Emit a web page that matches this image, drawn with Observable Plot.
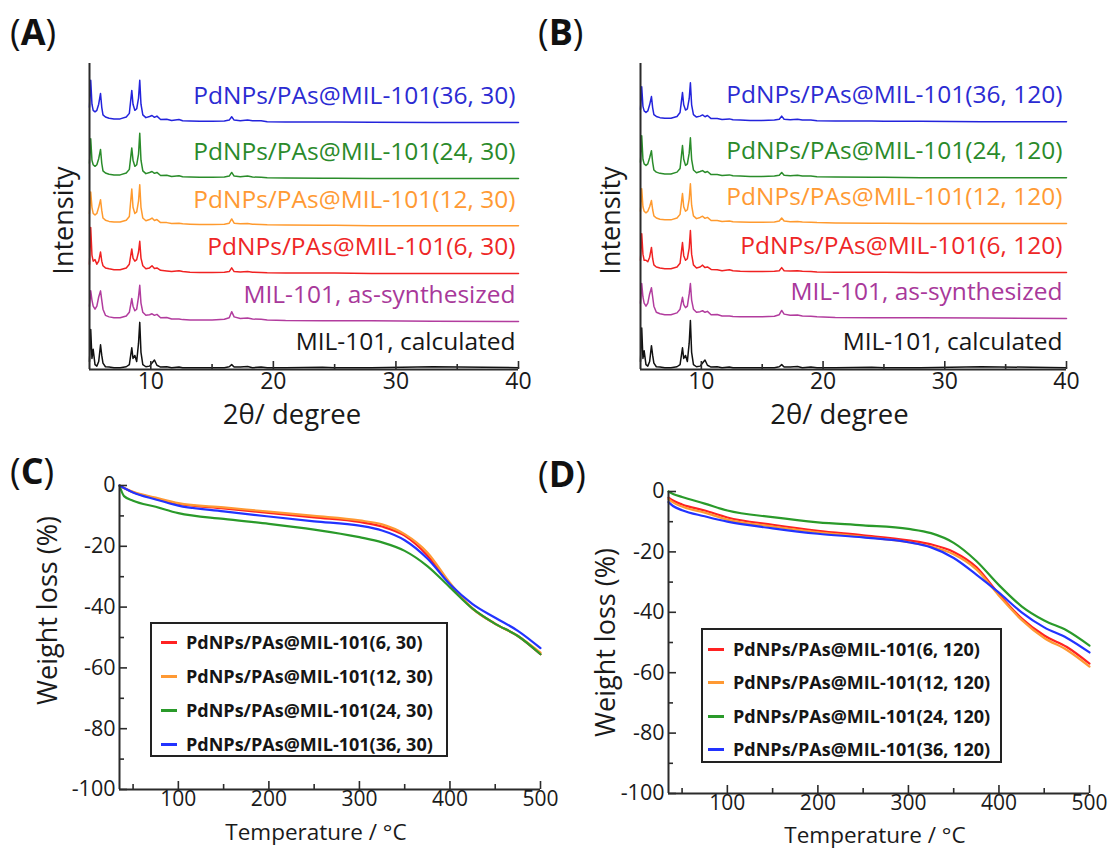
<!DOCTYPE html>
<html><head><meta charset="utf-8">
<script src="https://cdn.jsdelivr.net/npm/d3@7"></script>
<script src="https://cdn.jsdelivr.net/npm/@observablehq/plot@0.6"></script>
<style>
body{margin:0;background:#fff;}
#fig{position:relative;width:1113px;height:850px;font-family:"Open Sans",sans-serif;color:#1a1a1a;overflow:hidden;}
.panel{position:absolute;}
.tag{position:absolute;font-size:36px;line-height:1;color:#111;}
.tag b{font-weight:700;}
.legend{position:absolute;border:2px solid #222;background:#fff;box-sizing:border-box;}
.legend .item{position:absolute;left:0;right:0;height:24px;font-weight:700;font-size:18px;line-height:24px;white-space:nowrap;color:#151515;}
.legend .sw{position:absolute;top:11px;width:16px;height:3px;}
.legend .tx{position:absolute;}
</style></head><body><div id="fig"></div>
<script>
// ---------------- XRD data (panels A, B) ----------------
const twoTheta = [5.0,5.1,5.2,5.3,5.45,5.6,5.75,5.9,6.0,6.1,6.3,6.6,7.0,7.5,8.0,8.25,8.45,8.55,8.7,8.85,9.0,9.1,9.2,9.35,9.6,9.9,10.1,10.3,10.5,10.8,11.3,11.7,12.3,12.6,13.2,14.0,15.0,16.0,16.4,16.6,16.8,17.3,17.9,18.3,19.0,19.5,21.0,24.0,25.0,28.0,33.0,40.0];
const xrdTicks = [10,20,30,40];
const xrdMinorTicks = [15,25,35];

const xrdLabelsA = ["PdNPs/PAs@MIL-101(36, 30)","PdNPs/PAs@MIL-101(24, 30)","PdNPs/PAs@MIL-101(12, 30)","PdNPs/PAs@MIL-101(6, 30)","MIL-101, as-synthesized","MIL-101, calculated"];
const xrdLabelsB = ["PdNPs/PAs@MIL-101(36, 120)","PdNPs/PAs@MIL-101(24, 120)","PdNPs/PAs@MIL-101(12, 120)","PdNPs/PAs@MIL-101(6, 120)","MIL-101, as-synthesized","MIL-101, calculated"];
const xrdOffsetsA = [80.7, 62.4, 47.0, 31.4, 15.7, 0.6];
const xrdOffsetsB = [81.0, 62.7, 47.7, 31.7, 16.7, 0.6];

const blueA    = [5,13.8,6,4,3.5,4,6,9.5,5,2.5,1.8,1.4,1.2,1.2,1.8,3,10.5,6,4,4.5,8,13.8,6,2.5,1.6,2,2.3,1.7,2.1,1,1.1,0.7,1,0.6,0.5,0.4,0.4,0.5,0.8,1.9,0.8,0.6,0.8,0.6,0.6,0.3,0.2,0.2,0.2,0.1,0,0];
const greenA   = [5,13,6,4.5,4,4.5,6.5,9.5,5,2.5,1.8,1.4,1.2,1.2,1.8,3,10,6,4,4.5,8,14.8,6,2.5,1.6,2,2.3,1.7,2,1,1.1,0.7,0.9,0.6,0.5,0.4,0.4,0.5,0.8,2,0.8,0.6,0.8,0.5,0.4,0.3,0.2,0.1,0.1,0,0,0];
const orangeA  = [4,11,6,4,3.5,4,6,8.5,5,2.5,1.8,1.4,1.2,1.2,1.8,3,12,6,4,4.5,8,13.4,6,2.5,1.6,2,2.5,1.7,2,1,1,0.7,0.8,0.6,0.5,0.4,0.4,0.5,0.8,2.2,0.8,0.6,0.7,0.5,0.4,0.3,0.2,0.1,0.1,0,0,0];
const redA     = [3,15,6,4,4.5,3,4,7,4,2.5,1.8,1.5,1.2,1.2,1.8,3,8,5,4,4.5,7,10.5,5,2.5,1.5,1.8,2.5,1.6,1.8,1,0.8,0.6,0.9,0.6,0.4,0.3,0.3,0.4,0.6,1.8,0.6,0.5,0.6,0.4,0.3,0.2,0.1,0.1,0.1,0,0,0];
const magentaA = [5,10,7,5,4,5,8,10,7,4,2,1.5,1.2,1.2,1.8,3,7.5,5,3.5,4,8,11.8,6,3,2,2.2,2.5,2,2.3,1.2,1.3,0.8,0.8,0.6,0.5,0.5,0.5,0.7,1.2,3.2,1.5,1,1.1,0.8,0.7,0.5,0.3,0.2,0.2,0.2,0.1,0];
const blackA   = [2,12.5,3,6,1,0.5,2,7.5,4,1.5,0.3,0.2,0,0,0.3,1,6.5,3,4,2,8,14.8,5,1,0.3,0.5,1.5,2.5,0.8,0.2,0.3,0,0.2,0,0,0,0,0,0.3,1,0.2,0.2,0.4,0,0.2,0,0,0.1,0,0,0.3,0];

const blueB    = [4,11.4,5,3.5,3,3.5,5.5,8.2,4.5,2.3,1.7,1.3,1.1,1.1,1.7,3,9.5,5.5,3.8,4.2,7.5,12.7,5.5,2.3,1.5,1.8,2.2,1.6,2,1,1,0.7,0.9,0.6,0.5,0.4,0.4,0.5,0.8,1.8,0.8,0.6,0.8,0.5,0.5,0.3,0.2,0.2,0.1,0.1,0,0];
const greenB   = [5,13.7,6,4.5,4,4.5,6.5,8.8,5,2.5,1.8,1.4,1.2,1.2,1.8,3,10.5,6,4,4.5,8,13,6,2.5,1.6,2,2.3,1.7,2,1,1,0.7,0.9,0.6,0.5,0.4,0.4,0.5,0.8,1.7,0.8,0.6,0.8,0.5,0.5,0.3,0.2,0.1,0.1,0,0,0];
const orangeB  = [4,11.4,5.5,4,3.5,4,5.5,7.5,4.5,2.5,1.8,1.4,1.2,1.2,1.8,3,9.8,5.5,4,4.5,8,13,6,2.5,1.6,2,2.4,1.7,2,1,1,0.7,0.8,0.6,0.5,0.4,0.4,0.5,0.8,1.8,0.8,0.6,0.7,0.5,0.4,0.3,0.2,0.1,0.1,0,0,0];
const redB     = [4,12.7,6,4,4,3.5,5,8.2,4.5,2.5,1.8,1.5,1.2,1.2,1.8,3,9.8,5.5,4,4.5,8,13.7,6,2.5,1.5,1.8,2.4,1.6,1.8,1,0.9,0.6,0.9,0.6,0.4,0.3,0.3,0.4,0.6,1.6,0.6,0.5,0.6,0.4,0.3,0.2,0.1,0.1,0.1,0,0,0];
const magentaB = [5,11.4,7,5,4,5,8,10,7,4,2,1.5,1.2,1.2,1.8,3,6.9,4.5,3.5,4,8,11.4,6,3,2,2.2,2.5,2,2.3,1.2,1.3,0.8,0.8,0.6,0.5,0.5,0.5,0.7,1.2,2.6,1.4,1,1.1,0.8,0.7,0.5,0.3,0.2,0.2,0.2,0.1,0];
const blackB   = [2,13,3,5.5,1,0.5,2,7.2,4,1.5,0.3,0.2,0,0,0.3,1,6.5,3,4,2,8,15.4,5,1,0.3,0.5,1.5,2.5,0.8,0.2,0.3,0,0.2,0,0,0,0,0,0.3,1,0.2,0.2,0.4,0,0.2,0,0,0.1,0,0,0.3,0];

const xrdLineColors = ["#2323dc","#2a8c2a","#ff9a2e","#f02222","#b23c9e","#111111"];
const xrdTextColors = ["#2b2bd2","#2a8a2a","#ff9a33","#ee2626","#a8389a","#161616"];

// ---------------- TGA data (panels C, D) ----------------
const temperature = [35,40,50,75,100,150,200,250,300,325,350,375,400,425,450,475,500];
const tgaLabelsC = ["PdNPs/PAs@MIL-101(6, 30)","PdNPs/PAs@MIL-101(12, 30)","PdNPs/PAs@MIL-101(24, 30)","PdNPs/PAs@MIL-101(36, 30)"];
const tgaLabelsD = ["PdNPs/PAs@MIL-101(6, 120)","PdNPs/PAs@MIL-101(12, 120)","PdNPs/PAs@MIL-101(24, 120)","PdNPs/PAs@MIL-101(36, 120)"];
const redC    = [0,-0.8,-2.2,-4.2,-6,-7.5,-9,-10.5,-12,-13.5,-16.5,-23,-32.5,-40.5,-45.5,-49.5,-55.5];
const orangeC = [0,-0.8,-2.1,-4,-5.8,-7.2,-8.6,-10,-11.5,-12.8,-16,-22,-32,-40.5,-45.5,-49.5,-55];
const greenC  = [0,-3.5,-5,-7,-9.1,-11,-12.6,-14.5,-17,-18.7,-21.5,-26.5,-33.5,-40.5,-45.5,-49.5,-55.5];
const blueC   = [0,-0.8,-2.3,-4.6,-6.6,-8.5,-10.2,-11.8,-13.2,-14.8,-18,-24,-32.5,-39,-43.5,-47.8,-53.5];
const redD    = [-2,-3,-4.3,-6.3,-8.6,-11,-13,-14.5,-16.2,-17.5,-20,-25,-34,-42,-47.7,-51.5,-57];
const orangeD = [-2.5,-3.6,-5,-7,-9.3,-11.6,-13.5,-15,-16.8,-18.2,-20.8,-25.8,-34.5,-42.5,-48.5,-52.5,-58];
const greenD  = [0,-0.8,-1.8,-4,-6.3,-8.5,-10.2,-11.2,-12.4,-13.8,-17,-23,-31,-38,-42.7,-46,-51];
const blueD   = [-3.5,-4.8,-6.2,-8.2,-10,-12.2,-14,-15.2,-16.8,-18.5,-22,-27.5,-33.5,-40,-45,-48.5,-53.3];
const tgaColors = ["#ff2222","#ff9933","#2a9a2a","#2233ff"];
const tgaXTicks = [100,200,300,400,500];
const tgaXMinor = [50,150,250,350,450];
const tgaYTicks = [0,-20,-40,-60,-80,-100];
const tgaYMinor = [-10,-30,-50,-70,-90];

const fig = document.getElementById("fig");
const FONT = '"Open Sans", sans-serif';
const AXIS = "#2b2b2b";

function place(node, left, top) {
  const d = document.createElement("div");
  d.className = "panel";
  d.style.left = left + "px"; d.style.top = top + "px";
  d.appendChild(node); fig.appendChild(d);
}
function tag(letter, left, top) {
  const d = document.createElement("div");
  d.className = "tag";
  d.style.left = left + "px"; d.style.top = top + "px";
  d.innerHTML = "(<b>" + letter + "</b>)";
  fig.appendChild(d);
}

function xrdPanel(o) {
  const rows = [];
  o.series.forEach((vals, s) => vals.forEach((v, i) => rows.push({x: twoTheta[i], y: o.offsets[s] + v, s})));
  const fh = o.height - o.mt - o.mb;
  const labelRows = o.labels.map((t, i) => ({t, i, y: o.offsets[i]}));
  return Plot.plot({
    width: o.width, height: o.height,
    marginTop: o.mt, marginBottom: o.mb, marginLeft: o.ml, marginRight: o.mr,
    style: {fontFamily: FONT, background: "transparent", overflow: "visible"},
    x: {domain: [5, 40], axis: null},
    y: {domain: [0, 100], axis: null},
    color: {type: "identity"},
    marks: [
      Plot.line(rows, {x: "x", y: "y", z: "s", stroke: d => xrdLineColors[d.s], strokeWidth: 1.5, strokeLinejoin: "round"}),
      Plot.ruleX([5], {stroke: AXIS, strokeWidth: 2}),
      Plot.ruleY([0], {stroke: AXIS, strokeWidth: 2}),
      Plot.ruleX(xrdTicks, {x: d => d, insetTop: fh - 8, stroke: AXIS, strokeWidth: 1.6}),
      Plot.ruleX(xrdMinorTicks, {x: d => d, insetTop: fh - 5, stroke: AXIS, strokeWidth: 1.6}),
      Plot.axisX({ticks: xrdTicks, tickSize: 0, tickPadding: 3, fontSize: 23, fill: "#1a1a1a", label: null, tickFormat: d => String(d)}),
      Plot.text(labelRows, {x: () => 40, y: "y", text: "t", dx: o.labelDx, dy: -26, textAnchor: "end", fontSize: 24.5, fill: d => xrdTextColors[d.i]}),
      Plot.text(["2θ/ degree"], {frameAnchor: "bottom", textAnchor: "middle", dy: 54, dx: o.xtDx, fontSize: 27.5, fill: "#1a1a1a"}),
      Plot.text(["Intensity"], {frameAnchor: "left", textAnchor: "middle", rotate: -90, dx: o.ytDx, dy: 4, fontSize: 27, fill: "#1a1a1a"})
    ]
  });
}

function tgaPanel(o) {
  const rows = [];
  o.curves.forEach((vals, s) => vals.forEach((v, i) => rows.push({x: temperature[i], y: v, s})));
  const fh = o.height - o.mt - o.mb;
  const fw = o.width - o.ml - o.mr;
  return Plot.plot({
    width: o.width, height: o.height,
    marginTop: o.mt, marginBottom: o.mb, marginLeft: o.ml, marginRight: o.mr,
    style: {fontFamily: FONT, background: "transparent", overflow: "visible"},
    x: {domain: [35, 500], axis: null},
    y: {domain: [-100, 0], axis: null},
    color: {type: "identity"},
    marks: [
      Plot.line(rows, {x: "x", y: "y", z: "s", stroke: d => tgaColors[d.s], strokeWidth: 2.2, curve: "monotone-x"}),
      Plot.ruleX([35], {stroke: AXIS, strokeWidth: 2}),
      Plot.ruleY([-100], {stroke: AXIS, strokeWidth: 2}),
      Plot.ruleX(tgaXTicks, {x: d => d, insetTop: fh - 8, stroke: AXIS, strokeWidth: 1.6}),
      Plot.ruleX(tgaXMinor, {x: d => d, insetTop: fh - 5, stroke: AXIS, strokeWidth: 1.6}),
      Plot.ruleY(tgaYTicks, {y: d => d, insetRight: fw - 8, stroke: AXIS, strokeWidth: 1.6}),
      Plot.ruleY(tgaYMinor, {y: d => d, insetRight: fw - 5, stroke: AXIS, strokeWidth: 1.6}),
      Plot.axisX({ticks: tgaXTicks, tickSize: 0, tickPadding: 2, fontSize: 21, fill: "#1a1a1a", label: null, tickFormat: d => String(d)}),
      Plot.axisY({ticks: tgaYTicks, tickSize: 0, tickPadding: 4, fontSize: 21.5, fill: "#1a1a1a", label: null, tickFormat: d => String(d)}),
      Plot.text(["Temperature / °C"], {frameAnchor: "bottom", textAnchor: "middle", dy: o.xtDy, dx: o.xtDx, fontSize: 22.5, fill: "#1a1a1a"}),
      Plot.text(["Weight loss (%)"], {frameAnchor: "left", textAnchor: "middle", rotate: -90, dx: o.ytDx, dy: o.ytDy, fontSize: 27, fill: "#1a1a1a"})
    ]
  });
}

function legend(labels, left, top, width, height, rowTops, swLeft, txLeft) {
  const box = document.createElement("div");
  box.className = "legend";
  Object.assign(box.style, {left: left + "px", top: top + "px", width: width + "px", height: height + "px"});
  labels.forEach((t, i) => {
    const it = document.createElement("div");
    it.className = "item";
    it.style.top = rowTops[i] + "px";
    const sw = document.createElement("span");
    sw.className = "sw"; sw.style.left = swLeft + "px"; sw.style.background = tgaColors[i];
    const tx = document.createElement("span");
    tx.className = "tx"; tx.style.left = txLeft + "px"; tx.textContent = t;
    it.appendChild(sw); it.appendChild(tx); box.appendChild(it);
  });
  fig.appendChild(box);
}

// Panel A
place(xrdPanel({series: [blueA, greenA, orangeA, redA, magentaA, blackA], labels: xrdLabelsA, offsets: xrdOffsetsA,
  width: 556, height: 440, mt: 63, mb: 71, ml: 89, mr: 38, labelDx: -3, xtDx: -12, ytDx: -25}), 0, 0);
// Panel B
place(xrdPanel({series: [blueB, greenB, orangeB, redB, magentaB, blackB], labels: xrdLabelsB, offsets: xrdOffsetsB,
  width: 557, height: 440, mt: 63, mb: 71, ml: 84, mr: 47, labelDx: -4, xtDx: -14, ytDx: -29}), 556, 0);
// Panel C
place(tgaPanel({curves: [redC, orangeC, greenC, blueC],
  width: 556, height: 410, mt: 45, mb: 61, ml: 119, mr: 16, xtDx: -14, xtDy: 50, ytDx: -71, ytDy: -27}), 0, 440);
// Panel D
place(tgaPanel({curves: [redD, orangeD, greenD, blueD],
  width: 557, height: 410, mt: 51, mb: 57, ml: 112, mr: 24, xtDx: -4, xtDy: 49, ytDx: -62, ytDy: 0}), 556, 440);

legend(tgaLabelsC, 150, 622, 298, 135, [6, 40, 74, 108], 9, 34);
legend(tgaLabelsD, 701, 628, 301, 135, [7, 40, 74, 107], 5, 30);

tag("A", 10, 14);
tag("B", 538, 14);
tag("C", 10, 453);
tag("D", 538, 456);
</script></body></html>
